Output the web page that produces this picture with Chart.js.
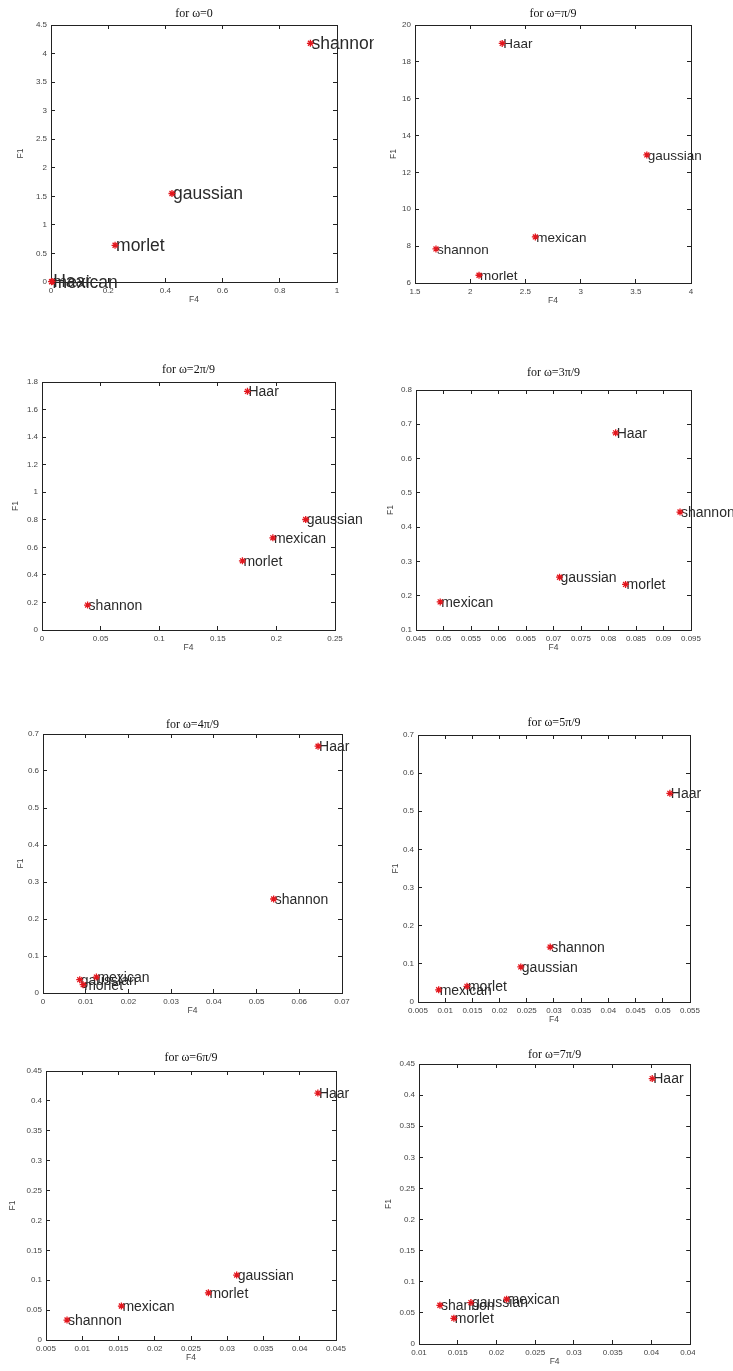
<!DOCTYPE html>
<html>
<head>
<meta charset="utf-8">
<script src="https://cdn.jsdelivr.net/npm/chart.js@4.4.1/dist/chart.umd.min.js"></script>
<style>
  html, body { margin: 0; padding: 0; background: #fff; }
  body { position: relative; width: 733px; height: 1371px; overflow: hidden; }
  canvas { position: absolute; }
</style>
</head>
<body>
<script>
// wavelet names, same order in every F4 / F1 array below
const wavelets = ['Haar', 'gaussian', 'mexican', 'morlet', 'shannon'];

const titles = ['for ω=0', 'for ω=π/9', 'for ω=2π/9', 'for ω=3π/9',
                'for ω=4π/9', 'for ω=5π/9', 'for ω=6π/9', 'for ω=7π/9'];

// F4 (x) and F1 (y) per omega
const f4_0 = [0.004, 0.423, 0.002, 0.224, 0.907];
const f1_0 = [0.010, 1.55, 0.005, 0.643, 4.18];
const f4_1 = [2.29, 3.60, 2.59, 2.08, 1.69];
const f1_1 = [19.0, 12.95, 8.5, 6.42, 7.85];
const f4_2 = [0.1753, 0.225, 0.197, 0.171, 0.0389];
const f1_2 = [1.732, 0.802, 0.669, 0.502, 0.181];
const f4_3 = [0.0813, 0.0711, 0.0494, 0.0831, 0.093];
const f1_3 = [0.675, 0.254, 0.182, 0.233, 0.444];
const f4_4 = [0.0644, 0.0086, 0.0125, 0.0094, 0.054];
const f1_4 = [0.667, 0.036, 0.043, 0.0225, 0.254];
const f4_5 = [0.0513, 0.0239, 0.0088, 0.014, 0.0293];
const f1_5 = [0.547, 0.092, 0.032, 0.041, 0.144];
const f4_6 = [0.0425, 0.0313, 0.0154, 0.0274, 0.0079];
const f1_6 = [0.413, 0.1086, 0.0568, 0.079, 0.0334];
const f4_7 = [0.0401, 0.0167, 0.0213, 0.0145, 0.0127];
const f1_7 = [0.4265, 0.0665, 0.072, 0.0413, 0.0622];

// axis ticks: [min, max, step]
const xTicks = [[0, 1, 0.2], [1.5, 4, 0.5], [0, 0.25, 0.05], [0.045, 0.095, 0.005],
                [0, 0.07, 0.01], [0.005, 0.055, 0.005], [0.005, 0.045, 0.005], [0.01, 0.045, 0.005]];
const yTicks = [[0, 4.5, 0.5], [6, 20, 2], [0, 1.8, 0.2], [0.1, 0.8, 0.1],
                [0, 0.7, 0.1], [0, 0.7, 0.1], [0, 0.45, 0.05], [0, 0.45, 0.05]];

const f4s = [f4_0, f4_1, f4_2, f4_3, f4_4, f4_5, f4_6, f4_7];
const f1s = [f1_0, f1_1, f1_2, f1_3, f1_4, f1_5, f1_6, f1_7];

// plot box on the page (left, right, top, bottom), title gap, F1 pad, right room, label size
const frames = [
  { L: 51,  R: 337, T: 25,   B: 282,  gap: 5,  yt: 4.2,  pr: 37, fs: 17.5 },
  { L: 415, R: 691, T: 25,   B: 283,  gap: 5,  yt: 13.2, pr: 42, fs: 13.5 },
  { L: 42,  R: 335, T: 382,  B: 630,  gap: 6,  yt: 8.2,  pr: 35, fs: 14 },
  { L: 416, R: 691, T: 390,  B: 630,  gap: 11, yt: 9.2,  pr: 42, fs: 14 },
  { L: 43,  R: 342, T: 734,  B: 993,  gap: 3,  yt: 12.2, pr: 28, fs: 14 },
  { L: 418, R: 690, T: 735,  B: 1002, gap: 6,  yt: 12.2, pr: 43, fs: 14 },
  { L: 46,  R: 336, T: 1071, B: 1340, gap: 7,  yt: 1.2,  pr: 34, fs: 14 },
  { L: 419, R: 691, T: 1064, B: 1344, gap: 3,  yt: 4.2,  pr: 4,  fs: 14 }
];

const YW = 40, XH = 24;
const SANS = '"Liberation Sans", Arial, sans-serif';
const ink = '#222';

const fmt = v => String(+Number(v).toFixed(6));

// text next to each marker
const pointLabels = {
  id: 'pointLabels',
  beforeDatasetsDraw(chart, args, opts) {
    const ctx = chart.ctx;
    const meta = chart.getDatasetMeta(0);
    ctx.save();
    ctx.font = opts.size + 'px ' + SANS;
    ctx.fillStyle = '#2a2a2a';
    ctx.textBaseline = 'middle';
    ctx.textAlign = 'left';
    meta.data.forEach((pt, i) => ctx.fillText(chart.data.labels[i], pt.x + 1, pt.y + 1));
    ctx.restore();
  }
};

function fixX(h) {
  return s => { s.height = h; s.paddingLeft = 0; s.paddingRight = 0; };
}
function fixY(w) {
  return s => { s.width = w; s.paddingTop = 0; s.paddingBottom = 0; };
}

function axis(pos, t, main, f) {
  const horiz = pos === 'bottom' || pos === 'top';
  const o = {
    type: 'linear', position: pos,
    min: t[0], max: t[1],
    border: { display: true, color: ink, width: 1 },
    grid: { drawOnChartArea: false, drawTicks: true, tickLength: -4, color: ink, lineWidth: 1 },
    ticks: {
      display: main, stepSize: t[2], autoSkip: false, maxRotation: 0, minRotation: 0,
      padding: 8, color: '#444', font: { family: SANS, size: 8 }, callback: fmt
    },
    afterFit: horiz ? fixX(main ? XH : 0) : fixY(main ? YW : 0)
  };
  if (main) {
    o.title = {
      display: true, text: horiz ? 'F4' : 'F1', color: '#444',
      font: { family: SANS, size: 8.5, lineHeight: 1.2 },
      padding: horiz ? { top: 0, bottom: 1.2 } : { top: f.yt, bottom: 0 }
    };
  }
  return o;
}

frames.forEach((f, k) => {
  const cv = document.createElement('canvas');
  const w = YW + (f.R - f.L) + f.pr;
  const h = (14 + f.gap) + (f.B - f.T) + XH;
  cv.width = w; cv.height = h;
  cv.style.left = (f.L - YW) + 'px';
  cv.style.top = (f.T - 14 - f.gap) + 'px';
  cv.style.width = w + 'px'; cv.style.height = h + 'px';
  document.body.appendChild(cv);

  new Chart(cv.getContext('2d'), {
    type: 'scatter',
    data: {
      labels: wavelets,
      datasets: [{
        data: f4s[k].map((x, i) => ({ x, y: f1s[k][i] })),
        pointStyle: 'star', radius: 3.5, hoverRadius: 3.5,
        borderColor: '#e3161d', backgroundColor: '#e3161d', borderWidth: 1.3,
        clip: false
      }]
    },
    options: {
      responsive: false, animation: false, devicePixelRatio: 1,
      layout: { padding: { left: 0, top: 0, right: f.pr, bottom: 0 } },
      plugins: {
        legend: { display: false },
        tooltip: { enabled: false },
        title: {
          display: true, text: titles[k], color: '#111', fullSize: false,
          font: { family: '"Liberation Serif", "Times New Roman", serif', size: 12, weight: 'normal', lineHeight: 1 },
          padding: { top: 2, bottom: f.gap }
        },
        pointLabels: { size: f.fs }
      },
      scales: {
        x: axis('bottom', xTicks[k], true, f),
        y: axis('left', yTicks[k], true, f),
        x2: axis('top', xTicks[k], false, f),
        y2: axis('right', yTicks[k], false, f)
      }
    },
    plugins: [pointLabels]
  });
});
</script>
</body>
</html>
